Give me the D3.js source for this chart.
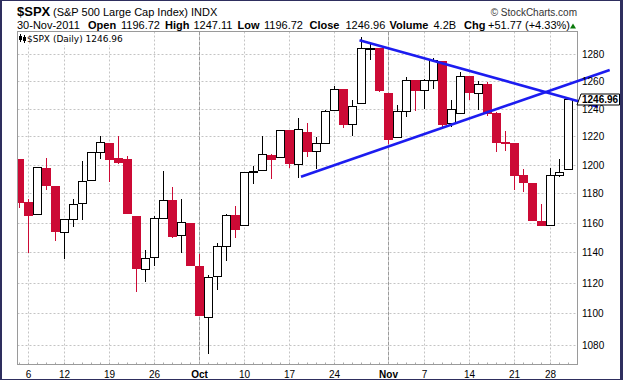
<!DOCTYPE html>
<html><head><meta charset="utf-8">
<script src="https://cdn.jsdelivr.net/npm/d3@7"></script>
<style>body{margin:0;background:#fff}svg{display:block;font-family:"Liberation Sans",Arial,sans-serif}</style>
</head><body><svg id="c" width="623" height="380"></svg>
<script>
// ---- data (S&P 500, daily, 2 Sep – 30 Nov 2011) ----
const dates = ["2011-09-02","2011-09-06","2011-09-07","2011-09-08","2011-09-09","2011-09-12","2011-09-13","2011-09-14","2011-09-15","2011-09-16","2011-09-19","2011-09-20","2011-09-21","2011-09-22","2011-09-23","2011-09-26","2011-09-27","2011-09-28","2011-09-29","2011-09-30",
"2011-10-03","2011-10-04","2011-10-05","2011-10-06","2011-10-07","2011-10-10","2011-10-11","2011-10-12","2011-10-13","2011-10-14","2011-10-17","2011-10-18","2011-10-19","2011-10-20","2011-10-21","2011-10-24","2011-10-25","2011-10-26","2011-10-27","2011-10-28","2011-10-31",
"2011-11-01","2011-11-02","2011-11-03","2011-11-04","2011-11-07","2011-11-08","2011-11-09","2011-11-10","2011-11-11","2011-11-14","2011-11-15","2011-11-16","2011-11-17","2011-11-18","2011-11-21","2011-11-22","2011-11-23","2011-11-25","2011-11-28","2011-11-29","2011-11-30"];
const opens = [1203.90,1173.97,1165.85,1197.98,1185.37,1153.50,1162.59,1173.32,1189.44,1209.21,1214.99,1204.50,1203.63,1164.55,1128.82,1136.91,1163.32,1175.39,1151.74,1159.93,
1131.21,1097.42,1124.03,1144.11,1165.03,1158.15,1194.60,1196.19,1206.96,1205.65,1224.47,1200.75,1223.46,1209.92,1215.39,1238.72,1254.19,1229.17,1243.97,1284.39,1284.96,
1251.00,1219.62,1238.25,1260.82,1253.21,1261.12,1275.18,1229.59,1237.00,1263.85,1251.70,1257.81,1236.56,1216.19,1215.62,1192.98,1187.48,1161.41,1158.67,1192.56,1196.72];
const highs = [1203.90,1176.41,1198.62,1204.40,1185.37,1162.52,1176.41,1202.38,1209.11,1220.06,1214.99,1220.39,1206.30,1164.55,1141.72,1164.19,1195.86,1184.71,1175.87,1159.93,
1138.99,1125.12,1146.07,1165.55,1171.40,1194.91,1199.24,1220.25,1207.46,1224.61,1224.47,1233.10,1229.64,1219.36,1239.03,1256.55,1254.19,1246.28,1292.66,1287.50,1284.96,
1251.00,1242.48,1263.21,1260.82,1261.70,1277.55,1275.18,1246.22,1266.98,1263.85,1260.00,1259.61,1237.73,1223.51,1215.62,1196.81,1187.48,1172.66,1197.35,1203.67,1247.11];
const lows = [1170.56,1140.13,1165.85,1183.34,1148.37,1136.07,1157.44,1162.73,1189.44,1204.46,1188.36,1201.29,1166.21,1114.22,1121.36,1131.61,1163.32,1150.40,1139.93,1131.34,
1098.92,1074.77,1115.68,1134.95,1150.26,1158.15,1187.30,1196.19,1190.58,1205.65,1198.55,1191.48,1206.31,1197.34,1215.39,1238.72,1226.79,1221.06,1243.97,1276.50,1253.16,
1215.42,1219.62,1234.81,1238.92,1240.75,1254.99,1226.64,1227.70,1237.00,1246.68,1240.00,1235.67,1209.43,1210.00,1183.16,1181.65,1161.79,1158.66,1158.67,1191.80,1196.72];
const closes = [1173.97,1165.24,1198.62,1185.90,1154.23,1162.27,1172.87,1188.68,1209.11,1216.01,1204.09,1202.09,1166.76,1129.56,1136.43,1162.95,1175.38,1151.06,1160.40,1131.42,
1099.23,1123.95,1144.03,1164.97,1155.46,1194.89,1195.54,1207.25,1203.66,1224.58,1200.86,1225.38,1209.88,1215.39,1238.25,1254.19,1229.05,1242.00,1284.59,1285.09,1253.30,
1218.28,1237.90,1261.15,1253.23,1261.12,1275.92,1229.10,1239.69,1263.85,1251.78,1257.81,1236.91,1216.13,1215.65,1192.98,1188.04,1161.79,1158.67,1192.55,1195.19,1246.96];

const yTicks = [1080,1100,1120,1140,1160,1180,1200,1220,1240,1260,1280];
const xTickDates = ["2011-09-06","2011-09-12","2011-09-19","2011-09-26","2011-10-03","2011-10-10","2011-10-17","2011-10-24","2011-11-01","2011-11-07","2011-11-14","2011-11-21","2011-11-28"];
const xTickLabels = ["6","12","19","26","Oct","10","17","24","Nov","7","14","21","28"];
const monthLabels = ["Oct","Nov"];

// trend lines: [trading-day position, price]
const trendDown = [[37.8,1290.5],[64.3,1241.4]];
const trendUp = [[31.3,1191.6],[65.6,1268.3]];

const lastClose = 1246.96;

// ---- layout ----
const L = 17.5, R = 577.5, T = 31.5, B = 364.5;
const RED = "#cc0a35";
const svg = d3.select("#c");
svg.append("rect").attr("width",623).attr("height",380).attr("fill","#fff");

const x = d3.scaleLinear().domain([-0.2, 62]).range([17.5, 577.3]);
const y = d3.scaleLog().domain([1080, 1280]).range([344.8, 54.3]);
const px = i => Math.floor(x(i));

// gridlines
const grid = svg.append("g");
grid.selectAll("line.h").data(yTicks).join("line")
  .attr("x1", L).attr("x2", R)
  .attr("y1", d => Math.round(y(d)) + 0.5).attr("y2", d => Math.round(y(d)) + 0.5)
  .attr("stroke", "#c4c4c4").attr("stroke-dasharray", "2,2");
grid.selectAll("line.v").data(xTickDates).join("line")
  .attr("x1", d => px(dates.indexOf(d)) + 0.5).attr("x2", d => px(dates.indexOf(d)) + 0.5)
  .attr("y1", T).attr("y2", B)
  .attr("stroke", (d,i) => monthLabels.includes(xTickLabels[i]) ? "#9a9a9a" : "#c4c4c4")
  .attr("stroke-dasharray", (d,i) => monthLabels.includes(xTickLabels[i]) ? "4,1" : "2,2");

// day ticks on bottom
svg.append("g").selectAll("line").data(dates).join("line")
  .attr("x1", (d,i) => px(i) + 0.5).attr("x2", (d,i) => px(i) + 0.5)
  .attr("y1", B - 2).attr("y2", B).attr("stroke", "#aaa");

// legend box
svg.append("rect").attr("x", 18).attr("y", 32).attr("width", 132).attr("height", 13).attr("fill", "#fff");

// clip
svg.append("clipPath").attr("id", "clp").append("rect")
  .attr("x", 18).attr("y", 32).attr("width", 559).attr("height", 332);
const cg = svg.append("g").attr("clip-path", "url(#clp)");

const candles = dates.map((d,i) => ({i, o: opens[i], h: highs[i], l: lows[i], c: closes[i]}));
const cs = cg.selectAll("g.c").data(candles).join("g").attr("shape-rendering", "crispEdges");
cs.append("line")
  .attr("x1", d => px(d.i) + 0.5).attr("x2", d => px(d.i) + 0.5)
  .attr("y1", d => Math.round(y(d.h))).attr("y2", d => Math.round(y(d.l)) + 1)
  .attr("stroke", d => d.c < d.o ? RED : "#000");
cs.filter(d => d.c < d.o).append("rect")
  .attr("x", d => px(d.i) - 4).attr("width", 9)
  .attr("y", d => Math.round(y(d.o)))
  .attr("height", d => Math.max(2, Math.round(y(d.c)) - Math.round(y(d.o)) + 1))
  .attr("fill", RED);
cs.filter(d => d.c >= d.o).append("rect")
  .attr("x", d => px(d.i) - 3.5).attr("width", 8)
  .attr("y", d => Math.round(y(d.c)) + 0.5)
  .attr("height", d => Math.max(1, Math.round(y(d.o)) - Math.round(y(d.c))))
  .attr("fill", "#fff").attr("stroke", "#000").attr("stroke-width", 1.2);

// frame
svg.append("rect").attr("x", L).attr("y", T).attr("width", R - L).attr("height", B - T)
  .attr("fill", "none").attr("stroke", "#9a9a9a");

// trend lines
const tl = d3.line().x(p => x(p[0])).y(p => y(p[1]));
[trendDown, trendUp].forEach(t => svg.append("path").attr("d", tl(t))
  .attr("stroke", "#1c1cf0").attr("stroke-width", 2.6).attr("fill", "none"));

// y axis labels
svg.append("g").selectAll("text").data(yTicks).join("text")
  .attr("x", 582).attr("y", d => Math.round(y(d)) + 4)
  .attr("font-size", 10).attr("fill", "#000").text(d => d);

// x axis labels
svg.append("g").selectAll("text").data(xTickDates).join("text")
  .attr("x", d => px(dates.indexOf(d)) + 0.5).attr("y", 378)
  .attr("text-anchor", "middle").attr("font-size", 10)
  .attr("font-weight", (d,i) => monthLabels.includes(xTickLabels[i]) ? "bold" : "normal")
  .text((d,i) => xTickLabels[i]);

// last price tag
const ty = Math.round(y(lastClose));
svg.append("path")
  .attr("d", `M577,${ty+6}L581,${ty-5}L619.5,${ty-5}L619.5,${ty+6}Z`)
  .attr("fill", "#fff").attr("stroke", "#000");
svg.append("text").attr("x", 582).attr("y", ty + 4).attr("font-size", 10).attr("font-weight", "bold")
  .text(lastClose.toFixed(2));

// legend
const lg = svg.append("g");
lg.append("line").attr("x1",20.5).attr("x2",20.5).attr("y1",34).attr("y2",42).attr("stroke","#000");
lg.append("rect").attr("x",19).attr("y",36).attr("width",3).attr("height",4).attr("fill","#000");
lg.append("line").attr("x1",24.5).attr("x2",24.5).attr("y1",35).attr("y2",43).attr("stroke","#000");
lg.append("rect").attr("x",23).attr("y",37).attr("width",3).attr("height",4).attr("fill","#000");
lg.append("text").attr("x", 27).attr("y", 42).attr("font-family", "'DejaVu Sans'").attr("font-size", 9)
  .text("$SPX (Daily) " + lastClose.toFixed(2));

// header
const h = svg.append("g");
h.append("text").attr("x", 17).attr("y", 16).attr("font-weight", "bold").attr("font-size", 13).text("$SPX");
h.append("text").attr("x", 53).attr("y", 16).attr("font-size", 11).text("(S&P 500 Large Cap Index) INDX");
h.append("text").attr("x", 577).attr("y", 16).attr("text-anchor", "end").attr("font-size", 10)
  .attr("fill", "#333").text("© StockCharts.com");
const parts = [
  ["30-Nov-2011",17,false],["Open",88,true],["1196.72",121,false],["High",165,true],["1247.11",193.5,false],
  ["Low",237.5,true],["1196.72",264,false],["Close",309.5,true],["1246.96",345.5,false],["Volume",389.5,true],
  ["4.2B",433.5,false],["Chg",464,true],["+51.77 (+4.33%)",488,false]];
h.selectAll("text.p").data(parts).join("text").attr("class","p")
  .attr("x", d => d[1]).attr("y", 29).attr("font-size", 11)
  .attr("font-weight", d => d[2] ? "bold" : "normal").text(d => d[0]);
h.append("path").attr("d", "M570,28.5L576,28.5L573,23.5Z").attr("fill", "#0a7a0a");

// outer border
const BC = "#2e2e5e";
svg.append("rect").attr("x",0).attr("y",0).attr("width",2).attr("height",380).attr("fill",BC);
svg.append("rect").attr("x",0).attr("y",0).attr("width",623).attr("height",1).attr("fill",BC);
svg.append("rect").attr("x",620).attr("y",0).attr("width",3).attr("height",380).attr("fill",BC);
svg.append("rect").attr("x",0).attr("y",379).attr("width",623).attr("height",1).attr("fill",BC);
</script></body></html>
